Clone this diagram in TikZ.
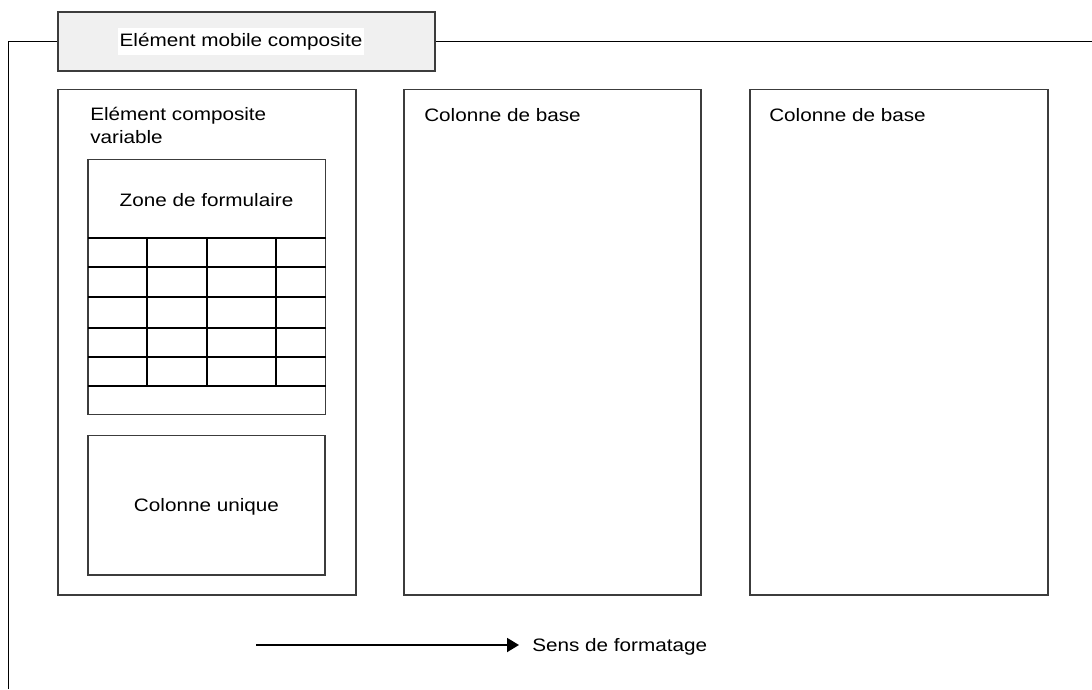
\documentclass[tikz,border=0pt]{standalone}
\usepackage{fontspec}
\setmainfont{Liberation Sans}[FakeStretch=1.15]
\usetikzlibrary{arrows.meta}
\definecolor{frameline}{HTML}{3C3C3C}
\definecolor{headfill}{HTML}{F0F0F0}
\begin{document}
\begin{tikzpicture}[x=0.75pt,y=-0.75pt,
  txt/.style={inner sep=0pt, font=\fontsize{13.5}{17.25}\selectfont, text=black},
  boxline/.style={draw=frameline, line width=0.9pt},
  gridline/.style={draw=black, line width=1.4pt},
  outline/.style={draw=black, line width=0.8pt}]
\useasboundingbox (0,0) rectangle (1092,689);

% outer frame of the mobile element
\draw[outline] (8.5,689) -- (8.5,41.5) -- (58,41.5);
\draw[outline] (435,41.5) -- (1092,41.5);

% header tab
\draw[boxline, fill=headfill] (58,12) rectangle (435,71);
\node[txt, fill=white, inner xsep=1.5pt, minimum height=20.25pt] (head) at (241,41.5) {Elément mobile composite};

% three columns
\draw[boxline] (58,89.5) rectangle (356,595);
\draw[boxline] (404,89.5) rectangle (701,595);
\draw[boxline] (750,89.5) rectangle (1048,595);

\node[txt, anchor=base west] (varlbl) at (90,120)
  {\begin{tabular}[t]{@{}l@{}}Elément composite\\variable\end{tabular}};
\node[txt, anchor=base west] (base1) at (424,121) {Colonne de base};
\node[txt, anchor=base west] (base2) at (769,121) {Colonne de base};

% form zone with its grid
\draw[boxline] (88,159.5) rectangle (325.5,414.5);
\node[txt, anchor=base] (form) at (206.5,206) {Zone de formulaire};
\foreach \yy in {237.7,267.3,297,328.3,357,386}
  \draw[gridline] (88,\yy) -- (325.5,\yy);
\foreach \xx in {146.7,206.7,276.3}
  \draw[gridline] (\xx,237.7) -- (\xx,386);

% single column
\draw[boxline] (88,435.5) rectangle (325,575);
\node[txt, anchor=base] (single) at (206.5,511) {Colonne unique};

% formatting direction
\coordinate (dirstart) at (256,645);
\node[txt, anchor=base west] (dir) at (532,651) {Sens de formatage};
\coordinate (dirend) at (519,645);
\draw[black, line width=1.4pt, -{Triangle[length=9pt,width=10.5pt]}] (dirstart) -- (dirend);
\end{tikzpicture}
\end{document}
